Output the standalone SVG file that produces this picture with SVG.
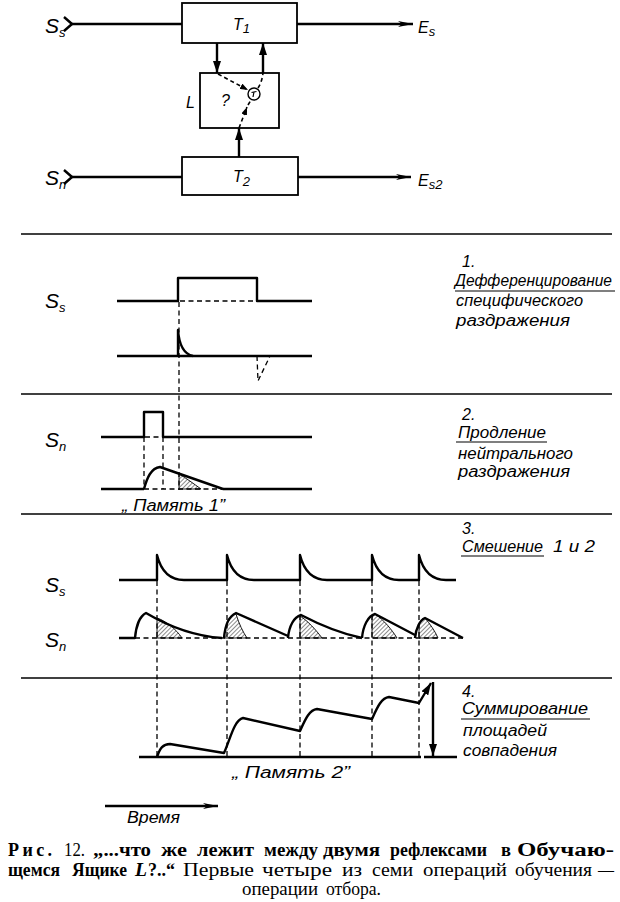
<svg xmlns="http://www.w3.org/2000/svg" width="620" height="902" viewBox="0 0 620 902">
<style>
  .thick{stroke:#000;stroke-width:2.4;fill:none;stroke-linejoin:round}
  .thin{stroke:#000;stroke-width:1.2;fill:none}
  .sep{stroke:#000;stroke-width:1.6;fill:none}
  .dash{stroke:#000;stroke-width:1.3;fill:none;stroke-dasharray:5 3.5}
  .dash2{stroke:#000;stroke-width:1.6;fill:none;stroke-dasharray:4 3}
  .box{stroke:#000;stroke-width:1.8;fill:none}
  .lbl{font-family:"Liberation Sans","DejaVu Sans",sans-serif;font-style:italic;font-size:16px;fill:#000}
  .sym{font-family:"Liberation Sans","DejaVu Sans",sans-serif;font-style:italic;font-size:21px;fill:#000}
  .sub{font-size:13px}
  .cap{font-family:"Liberation Serif","DejaVu Serif",serif;font-size:18px;fill:#000}
  .b{font-weight:bold}
  .hatch{fill:url(#hatch);stroke:#000;stroke-width:0.9}
</style>
<defs>
  <marker id="outArrow" viewBox="0 0 15 6" refX="15" refY="3" markerWidth="15" markerHeight="6" markerUnits="userSpaceOnUse" orient="auto">
    <path d="M0,0 L15,3 L0,6 L4,3 Z" fill="#000"/>
  </marker>
  <marker id="fillArrow" viewBox="0 0 12 8" refX="12" refY="4" markerWidth="12" markerHeight="8" markerUnits="userSpaceOnUse" orient="auto">
    <path d="M0,0 L12,4 L0,8 Z" fill="#000"/>
  </marker>
  <marker id="smallArrow" viewBox="0 0 8 6" refX="8" refY="3" markerWidth="8" markerHeight="6" markerUnits="userSpaceOnUse" orient="auto">
    <path d="M0,0 L8,3 L0,6 Z" fill="#000"/>
  </marker>
  <pattern id="hatch" patternUnits="userSpaceOnUse" width="3" height="3" patternTransform="rotate(45)">
    <line x1="0" y1="0" x2="0" y2="3" stroke="#000" stroke-width="0.9"/>
  </pattern>
</defs>
<rect width="620" height="902" fill="#fff"/>

<!-- ===== Block diagram ===== -->
<g id="node-T1">
  <rect class="box" x="182" y="3" width="115" height="40"/>
  <text class="lbl" x="233" y="30" font-size="17">T<tspan class="sub" dy="3">1</tspan></text>
</g>
<g id="node-L">
  <rect class="box" x="200" y="73" width="79" height="55"/>
  <text class="lbl" x="186" y="108" font-size="17">L</text>
  <text class="lbl" x="221" y="106" font-size="17">?</text>
</g>
<g id="node-sum">
  <circle cx="254" cy="94" r="6" fill="#fff" stroke="#000" stroke-width="1.4"/>
  <path class="thin" d="M251.5,92.5 L256.5,91.5 M254,92 L253,97"/>
</g>
<g id="node-T2">
  <rect class="box" x="182" y="157" width="116" height="38"/>
  <text class="lbl" x="233" y="182" font-size="17">T<tspan class="sub" dy="4">2</tspan></text>
</g>
<g id="node-Ss">
  <text class="sym" x="45" y="33">S<tspan class="sub" dy="4">s</tspan></text>
</g>
<g id="node-Sn">
  <text class="sym" x="45" y="185">S<tspan class="sub" dy="4">n</tspan></text>
</g>
<g id="node-Es">
  <text class="lbl" x="418" y="33" font-size="19">E<tspan class="sub" dy="3">s</tspan></text>
</g>
<g id="node-Es2">
  <text class="lbl" x="418" y="186" font-size="19">E<tspan class="sub" dy="3">s2</tspan></text>
</g>
<g id="connectors">
  <path class="thick" d="M64,17 L72,24 L64,31"/>
  <path class="thick" d="M70,24 L182,24"/>
  <path class="thick" d="M297,24 L413,24" marker-end="url(#outArrow)"/>
  <path class="thick" d="M64,170 L72,177 L64,184"/>
  <path class="thick" d="M70,177 L182,177"/>
  <path class="thick" d="M298,177 L411,177" marker-end="url(#outArrow)"/>
  <path class="thick" d="M217,43 L217,73" marker-end="url(#fillArrow)"/>
  <path class="thick" d="M263,73 L263,43" marker-end="url(#fillArrow)"/>
  <path class="thick" d="M239,157 L239,128" marker-end="url(#fillArrow)"/>
  <path class="dash2" d="M218,74 L248,90" marker-end="url(#smallArrow)"/>
  <path class="dash2" d="M258,88 Q262,82 263,73"/>
  <path class="dash2" d="M239,128 L247,107" marker-end="url(#smallArrow)"/>
  <path class="dash2" d="M248,105 L251,100"/>
</g>

<!-- ===== Separators ===== -->
<g id="separators">
  <line class="sep" x1="21" y1="234" x2="612" y2="234"/>
  <line class="sep" x1="21" y1="394" x2="612" y2="394"/>
  <line class="sep" x1="21" y1="514" x2="612" y2="514"/>
  <line class="sep" x1="21" y1="678" x2="612" y2="678"/>
</g>

<!-- ===== Section 1 ===== -->
<g id="section1">
  <text class="sym" x="45" y="308">S<tspan class="sub" dy="4">s</tspan></text>
  <path class="thick" d="M117,301 L178,301 L178,278 L257,278 L257,301 L312,301"/>
  <path class="dash" d="M180,301 L256,301"/>
  <path class="thick" d="M117,356 L312,356"/>
  <path class="thick" stroke-width="1.8" d="M178,356 L178,330 C179,343 183,354 193,356"/>
  <path class="dash" d="M257,356 L258,381 L270,356"/>
  <path class="dash" d="M179,302 L179,490"/>
  <text class="lbl" x="462" y="267">1.</text>
  <text class="lbl" x="455" y="286" textLength="157" lengthAdjust="spacingAndGlyphs">Дефференцирование</text>
  <line class="thin" stroke-width="1.5" x1="455" y1="291" x2="615" y2="291"/>
  <text class="lbl" x="456" y="306" textLength="127" lengthAdjust="spacingAndGlyphs">специфического</text>
  <text class="lbl" x="456" y="326" textLength="114" lengthAdjust="spacingAndGlyphs">раздражения</text>
</g>

<!-- ===== Section 2 ===== -->
<g id="section2">
  <text class="sym" x="45" y="447">S<tspan class="sub" dy="4">n</tspan></text>
  <path class="thick" d="M101,437 L144,437 L144,412 L163,412 L163,437 L312,437"/>
  <path class="dash" d="M145,437 L162,437"/>
  <path class="dash" d="M144,437 L144,489 M163,437 L163,489"/>
  <path class="thick" d="M101,489 L144,489 M223,489 L312,489"/>
  <path class="dash" d="M144,489 L223,489"/>
  <path class="hatch" d="M179,489 L179,474 C186,478 194,484 201,489 Z"/>
  <path class="thick" d="M144,489 C147,478 151,468 160,467 L223,489"/>
  <text class="lbl" x="122" y="511" textLength="103" lengthAdjust="spacingAndGlyphs">„ Память 1”</text>
  <text class="lbl" x="462" y="420">2.</text>
  <text class="lbl" x="458" y="438" textLength="88" lengthAdjust="spacingAndGlyphs">Продление</text>
  <line class="thin" stroke-width="1.5" x1="456" y1="442" x2="547" y2="442"/>
  <text class="lbl" x="458" y="459" textLength="115" lengthAdjust="spacingAndGlyphs">нейтрального</text>
  <text class="lbl" x="458" y="477" textLength="112" lengthAdjust="spacingAndGlyphs">раздражения</text>
</g>

<!-- ===== Section 3 ===== -->
<g id="section3">
  <text class="sym" x="45" y="592">S<tspan class="sub" dy="4">s</tspan></text>
  <text class="sym" x="45" y="647">S<tspan class="sub" dy="4">n</tspan></text>
  <path class="thick" d="M119,580 L157,580 L157,555 C160,567 167,580 184,580 L227,580 L227,555 C230,567 237,580 254,580 L300,580 L300,555 C303,567 310,580 327,580 L372,580 L372,555 C375,567 382,580 399,580 L419,580 L419,555 C422,567 429,580 446,580 L456,580"/>
  <path class="dash" d="M135,638 L463,638"/>
  <path class="hatch" d="M157,638 L157,618 C166,621 176,629 182,638 Z"/>
  <path class="hatch" d="M224,638 C225,626 229,616 236,614 C239,624 243,632 247,638 Z"/>
  <path class="hatch" d="M300,638 L300,616 C308,621 316,630 322,638 Z"/>
  <path class="hatch" d="M372,638 L372,618 C373,615 374,614 375,614 C384,620 392,630 397,638 Z"/>
  <path class="hatch" d="M419,638 L419,625 C421,620 423,618 425,618 C430,624 435,631 438,638 Z"/>
  <path class="thick" d="M119,638 L135,638 C136,626 140,616 146,613 C168,626 192,636 222,638"/>
  <path class="thick" d="M224,638 C225,626 229,616 236,613 L288,636"/>
  <path class="thick" d="M288,638 C289,626 294,617 301,615 C322,626 343,634 362,638"/>
  <path class="thick" d="M362,638 C363,626 368,616 375,614 L415,635"/>
  <path class="thick" d="M415,638 C416,628 420,620 425,618 L463,638"/>
  <path class="dash" d="M157,581 L157,757 M227,581 L227,757 M300,581 L300,757 M372,581 L372,757 M419,581 L419,757"/>
  <text class="lbl" x="462" y="534">3.</text>
  <text class="lbl" x="462" y="552" textLength="81" lengthAdjust="spacingAndGlyphs">Смешение</text>
  <line class="thin" stroke-width="1.5" x1="461" y1="556" x2="544" y2="556"/>
  <text class="lbl" x="553" y="552" textLength="42" lengthAdjust="spacingAndGlyphs" xml:space="preserve">1 и 2</text>
</g>

<!-- ===== Section 4 ===== -->
<g id="section4">
  <path class="thick" stroke-width="2" d="M139,757 L421,757 M424,757 L457,757"/>
  <path class="thick" d="M157,757 C160,748 163,744 170,744 L224,753 C230,740 234,720 243,718 L300,731 C305,720 309,710 317,709 L372,719 C377,708 381,698 389,697 L419,703 L431,683" marker-end="url(#fillArrow)"/>
  <path class="thick" stroke-width="1.6" d="M433,682 L433,756" marker-end="url(#fillArrow)"/>
  <text class="lbl" x="232" y="778" textLength="118" lengthAdjust="spacingAndGlyphs">„ Память 2”</text>
  <text class="lbl" x="462" y="697">4.</text>
  <text class="lbl" x="462" y="714" textLength="126" lengthAdjust="spacingAndGlyphs">Суммирование</text>
  <line class="thin" stroke-width="1.5" x1="461" y1="719" x2="590" y2="719"/>
  <text class="lbl" x="463" y="736" textLength="84" lengthAdjust="spacingAndGlyphs">площадей</text>
  <text class="lbl" x="463" y="756" textLength="94" lengthAdjust="spacingAndGlyphs">совпадения</text>
</g>

<!-- ===== Time axis ===== -->
<g id="time-axis">
  <path class="thick" stroke-width="1.8" d="M105,806 L218,806" marker-end="url(#outArrow)"/>
  <text class="lbl" x="127" y="823" textLength="53" lengthAdjust="spacingAndGlyphs">Время</text>
</g>

<!-- ===== Caption ===== -->
<g id="caption">
  <text class="cap" y="856"><tspan class="b" x="8" textLength="44" lengthAdjust="spacing">Рис.</tspan><tspan x="64" textLength="21" lengthAdjust="spacingAndGlyphs">12.</tspan><tspan class="b" x="93" textLength="58" lengthAdjust="spacingAndGlyphs">„...что</tspan><tspan class="b" x="161" textLength="26" lengthAdjust="spacingAndGlyphs">же</tspan><tspan class="b" x="197" textLength="57" lengthAdjust="spacingAndGlyphs">лежит</tspan><tspan class="b" x="264" textLength="54" lengthAdjust="spacingAndGlyphs">между</tspan><tspan class="b" x="323" textLength="57" lengthAdjust="spacingAndGlyphs">двумя</tspan><tspan class="b" x="390" textLength="97" lengthAdjust="spacingAndGlyphs">рефлексами</tspan><tspan class="b" x="501" textLength="10" lengthAdjust="spacingAndGlyphs">в</tspan><tspan class="b" x="517" textLength="97" lengthAdjust="spacingAndGlyphs">Обучаю-</tspan></text>
  <text class="cap" y="876"><tspan class="b" x="8" textLength="52" lengthAdjust="spacingAndGlyphs">щемся</tspan><tspan class="b" x="72" textLength="55" lengthAdjust="spacingAndGlyphs">Ящике</tspan><tspan class="b" x="135" font-style="italic" textLength="12" lengthAdjust="spacingAndGlyphs">L</tspan><tspan class="b" x="148" textLength="27" lengthAdjust="spacingAndGlyphs">?..“</tspan><tspan x="183" textLength="71" lengthAdjust="spacingAndGlyphs">Первые</tspan><tspan x="262" textLength="70" lengthAdjust="spacingAndGlyphs">четыре</tspan><tspan x="342" textLength="20" lengthAdjust="spacingAndGlyphs">из</tspan><tspan x="372" textLength="41" lengthAdjust="spacingAndGlyphs">семи</tspan><tspan x="423" textLength="84" lengthAdjust="spacingAndGlyphs">операций</tspan><tspan x="515" textLength="77" lengthAdjust="spacingAndGlyphs">обучения</tspan><tspan x="598" textLength="16" lengthAdjust="spacingAndGlyphs">—</tspan></text>
  <text class="cap" y="895"><tspan x="242" textLength="76" lengthAdjust="spacingAndGlyphs">операции</tspan><tspan x="326" textLength="55" lengthAdjust="spacingAndGlyphs">отбора.</tspan></text>
</g>
</svg>
